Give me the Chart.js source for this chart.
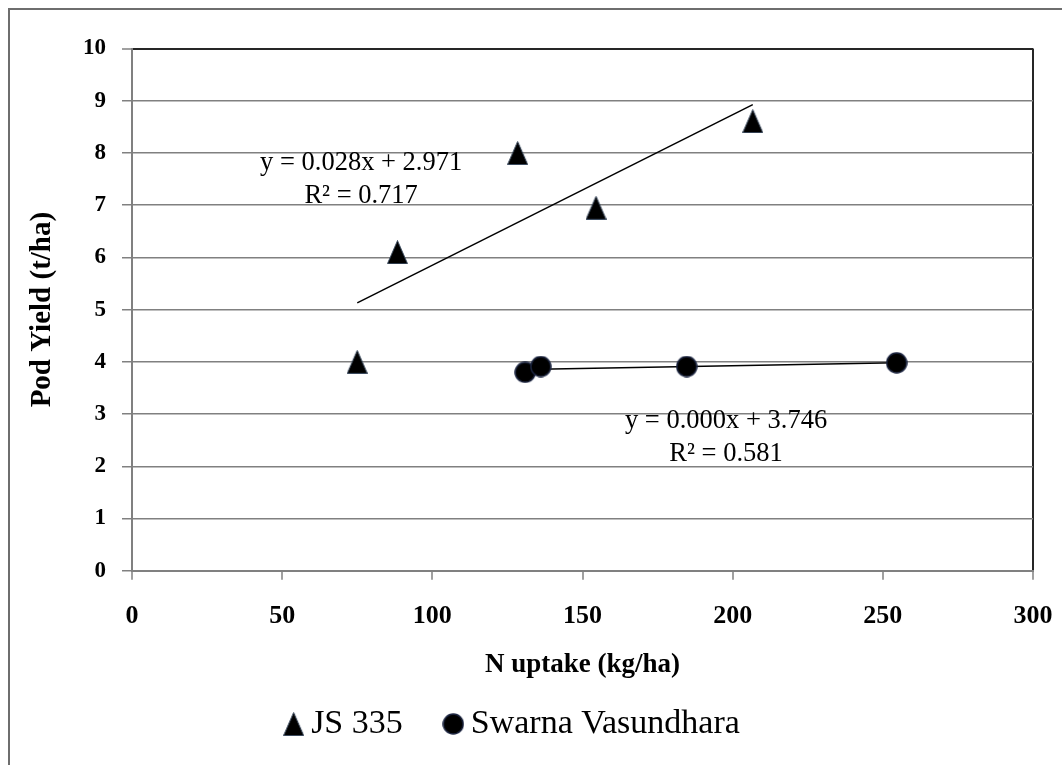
<!DOCTYPE html>
<html lang="en">
<head>
  <meta charset="utf-8">
  <title>Pod Yield vs N uptake</title>
  <style>
    html, body { margin: 0; padding: 0; background: #fff; }
    .frame {
      position: absolute; left: 8px; top: 8px; right: 0; bottom: 0;
      border-top: 2px solid #6e6e6e; border-left: 2px solid #6e6e6e;
    }
    .chartBox { position: relative; width: 1062px; height: 765px; }
  </style>
</head>
<body>
  <div class="frame"></div>
  <div class="chartBox">
    <canvas id="myChart"></canvas>
  </div>

  <script src="https://cdn.jsdelivr.net/npm/chart.js/dist/chart.umd.min.js"></script>
  <script>
    // data
    const seriesNames = ['JS 335', 'Swarna Vasundhara'];
    const jsX = [75, 88.4, 128.4, 154.5, 206.7];
    const jsY = [4.0, 6.1, 8.0, 6.95, 8.61];
    const swX = [130.9, 136.1, 184.7, 254.6];
    const swY = [3.80, 3.91, 3.91, 3.98];
    const xTicks = [0, 50, 100, 150, 200, 250, 300];
    const yTicks = [0, 1, 2, 3, 4, 5, 6, 7, 8, 9, 10];
    const jsEquation = ['y = 0.028x + 2.971', 'R² = 0.717'];
    const swEquation = ['y = 0.000x + 3.746', 'R² = 0.581'];

    const serif = "'Liberation Serif', 'Times New Roman', serif";

    // least squares line between the smallest and largest x
    function trend(xs, ys) {
      const n = xs.length;
      const mx = xs.reduce((a, b) => a + b, 0) / n;
      const my = ys.reduce((a, b) => a + b, 0) / n;
      let sxy = 0, sxx = 0;
      xs.forEach((x, i) => { sxy += (x - mx) * (ys[i] - my); sxx += (x - mx) * (x - mx); });
      const b = sxy / sxx, a = my - b * mx;
      const x0 = Math.min(...xs), x1 = Math.max(...xs);
      return [{ x: x0, y: a + b * x0 }, { x: x1, y: a + b * x1 }];
    }

    // marker images
    function triangleMarker() {
      const c = document.createElement('canvas');
      c.width = 21; c.height = 24;
      const g = c.getContext('2d');
      g.beginPath();
      g.moveTo(10.5, 0.5); g.lineTo(20.5, 23.5); g.lineTo(0.5, 23.5); g.closePath();
      g.fillStyle = '#000'; g.fill();
      g.strokeStyle = '#3b4a5e'; g.lineWidth = 1; g.stroke();
      return c;
    }
    function circleMarker() {
      const c = document.createElement('canvas');
      c.width = 22; c.height = 22;
      const g = c.getContext('2d');
      g.beginPath();
      g.arc(11, 11, 10, 0, Math.PI * 2);
      g.fillStyle = '#000'; g.fill();
      g.strokeStyle = '#1c2540'; g.lineWidth = 1.5; g.stroke();
      return c;
    }
    const tri = triangleMarker();
    const dot = circleMarker();

    const toPoints = (xs, ys) => xs.map((x, i) => ({ x: x, y: ys[i] }));

    // equation texts
    const equationLabels = {
      id: 'equationLabels',
      afterDatasetsDraw(chart) {
        const { ctx, scales: { x, y } } = chart;
        const items = [
          { text: jsEquation, at: [76.3, 7.80], step: 0.62 },
          { text: swEquation, at: [197.8, 2.86], step: 0.62 }
        ];
        ctx.save();
        ctx.font = '26.5px ' + serif;
        ctx.fillStyle = '#000';
        ctx.textAlign = 'center';
        ctx.textBaseline = 'middle';
        items.forEach((it) => {
          it.text.forEach((line, i) => {
            ctx.fillText(line, x.getPixelForValue(it.at[0]), y.getPixelForValue(it.at[1] - i * it.step));
          });
        });
        ctx.restore();
      }
    };

    const data = {
      datasets: [
        {
          label: seriesNames[0],
          data: toPoints(jsX, jsY),
          pointStyle: tri,
          pointRadius: 10,
          showLine: false
        },
        {
          label: seriesNames[1],
          data: toPoints(swX, swY),
          pointStyle: dot,
          pointRadius: 10,
          showLine: false
        },
        {
          label: 'trend1',
          data: trend(jsX, jsY),
          showLine: true,
          borderColor: '#000',
          borderWidth: 1.5,
          pointRadius: 0
        },
        {
          label: 'trend2',
          data: trend(swX, swY),
          showLine: true,
          borderColor: '#000',
          borderWidth: 1.5,
          pointRadius: 0
        }
      ]
    };

    const config = {
      type: 'scatter',
      data: data,
      options: {
        responsive: true,
        maintainAspectRatio: false,
        animation: false,
        layout: { padding: { top: 48.5, right: 29, bottom: 14, left: 0 } },
        plugins: {
          tooltip: { enabled: false },
          legend: {
            position: 'bottom',
            labels: {
              usePointStyle: true,
              pointStyleWidth: 1,
              padding: 50,
              color: '#000',
              font: { family: serif, size: 34 },
              filter: (item) => item.datasetIndex < 2
            }
          }
        },
        scales: {
          x: {
            type: 'linear',
            min: 0,
            max: 300,
            afterBuildTicks: (s) => { s.ticks = xTicks.map((v) => ({ value: v })); },
            afterFit: (s) => { s.height = 86.3; s.paddingLeft = 0; s.paddingRight = 0; },
            border: { color: '#808080', width: 2 },
            grid: {
              drawOnChartArea: true,
              color: (c) => (c.tick && c.tick.value === 300 ? '#262626' : 'rgba(0,0,0,0)'),
              lineWidth: 2,
              tickColor: '#808080',
              tickLength: 9,
              tickWidth: 1.5
            },
            ticks: {
              color: '#000',
              padding: 21,
              font: { family: serif, size: 26, weight: 'bold' }
            },
            title: {
              display: true,
              text: 'N uptake (kg/ha)',
              color: '#000',
              padding: { top: 0, bottom: -24 },
              font: { family: serif, size: 27, weight: 'bold' }
            }
          },
          y: {
            type: 'linear',
            min: 0,
            max: 10,
            afterBuildTicks: (s) => { s.ticks = yTicks.map((v) => ({ value: v })); },
            afterFit: (s) => { s.width = 132; },
            border: { color: '#808080', width: 2 },
            grid: {
              color: (c) => (c.tick && c.tick.value === 10 ? '#262626' : '#808080'),
              lineWidth: (c) => (c.tick && c.tick.value === 10 ? 2 : 1.5),
              tickColor: '#808080',
              tickLength: 10,
              tickWidth: 1.5
            },
            ticks: {
              color: '#000',
              padding: 16,
              font: { family: serif, size: 23, weight: 'bold' }
            },
            title: {
              display: true,
              text: 'Pod Yield (t/ha)',
              color: '#000',
              padding: { top: 25, bottom: 0 },
              font: { family: serif, size: 29, weight: 'bold' }
            }
          }
        }
      },
      plugins: [equationLabels]
    };

    const ctx = document.getElementById('myChart').getContext('2d');
    const myChart = new Chart(ctx, config);
  </script>
</body>
</html>
